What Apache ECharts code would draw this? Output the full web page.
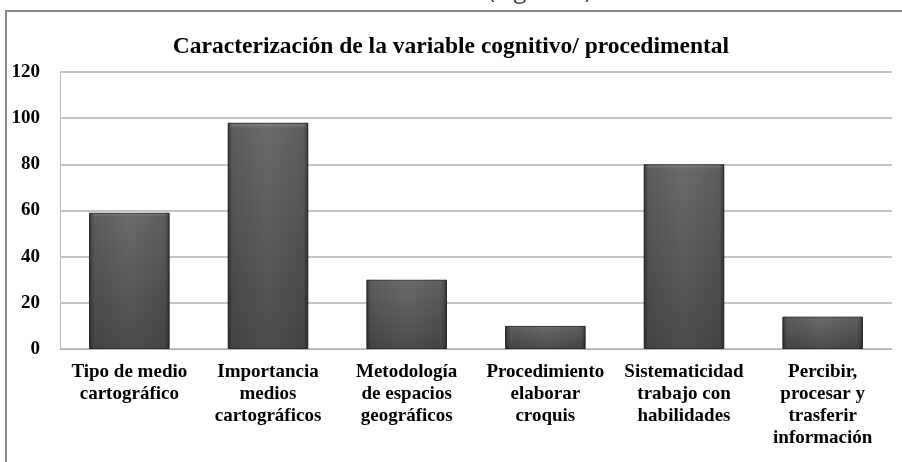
<!DOCTYPE html>
<html>
<head>
<meta charset="utf-8">
<script src="https://cdn.jsdelivr.net/npm/echarts@6/dist/echarts.min.js"></script>
<style>html,body{margin:0;padding:0;background:#fff}#c{width:902px;height:462px}</style>
</head>
<body>
<div id="c"></div>
<script>
var titleText = 'Caracterización de la variable cognitivo/ procedimental';
var captionText = '(Figura 1)';
var categories = [
  'Tipo de medio\ncartográfico',
  'Importancia\nmedios\ncartográficos',
  'Metodología\nde espacios\ngeográficos',
  'Procedimiento\nelaborar\ncroquis',
  'Sistematicidad\ntrabajo con\nhabilidades',
  'Percibir,\nprocesar y\ntrasferir\ninformación'
];
var values = [59, 98, 30, 10, 80, 14];
var yTicks = [0, 20, 40, 60, 80, 100, 120];

var chart = echarts.init(document.getElementById('c'), null, {renderer: 'canvas'});
var serif = '"Liberation Serif", "Times New Roman", serif';
chart.setOption({
  backgroundColor: '#ffffff',
  animation: false,
  title: {
    text: titleText,
    left: 'center',
    top: 30,
    textStyle: {fontFamily: serif, fontWeight: 'bold', fontSize: 23.5, color: '#000'}
  },
  graphic: [
    {type: 'rect', shape: {x: 6, y: 11, width: 1200, height: 1000}, style: {fill: 'none', stroke: '#8a8a8a', lineWidth: 2}, silent: true},
    {type: 'text', x: 488, y: 3, style: {text: captionText, font: '24px "Open Sans", sans-serif', fill: '#444', verticalAlign: 'bottom'}, silent: true}
  ],
  grid: {left: 60, right: 10, top: 72, bottom: 113},
  xAxis: {
    type: 'category',
    data: categories,
    axisLine: {lineStyle: {color: '#b0b0b0', width: 1}},
    axisTick: {show: false},
    axisLabel: {fontFamily: serif, fontWeight: 'bold', fontSize: 19, color: '#000', lineHeight: 22, margin: 12, interval: 0}
  },
  yAxis: {
    type: 'value',
    min: yTicks[0],
    max: yTicks[yTicks.length - 1],
    interval: 20,
    axisLine: {show: true, lineStyle: {color: '#b8b8b8', width: 1}},
    axisTick: {show: false},
    splitLine: {lineStyle: {color: '#b0b0b0', width: 1.5}},
    axisLabel: {fontFamily: serif, fontWeight: 'bold', fontSize: 19, color: '#000', margin: 20}
  },
  series: [
    {
      type: 'bar',
      data: values,
      barWidth: '58%',
      itemStyle: {
        color: new echarts.graphic.LinearGradient(0, 0, 0, 1, [
          {offset: 0, color: '#8a8a8a'},
          {offset: 0.025, color: '#6a6a6a'},
          {offset: 1, color: '#4c4c4c'}
        ]),
        borderColor: '#363636',
        borderWidth: 1
      }
    },
    {
      type: 'bar',
      data: values,
      barWidth: '58%',
      barGap: '-100%',
      silent: true,
      itemStyle: {
        color: new echarts.graphic.LinearGradient(0, 0, 1, 0, [
          {offset: 0, color: 'rgba(0,0,0,0.45)'},
          {offset: 0.06, color: 'rgba(0,0,0,0.12)'},
          {offset: 0.5, color: 'rgba(0,0,0,0)'},
          {offset: 0.94, color: 'rgba(0,0,0,0.12)'},
          {offset: 1, color: 'rgba(0,0,0,0.45)'}
        ])
      }
    }
  ]
});
</script>
</body>
</html>
